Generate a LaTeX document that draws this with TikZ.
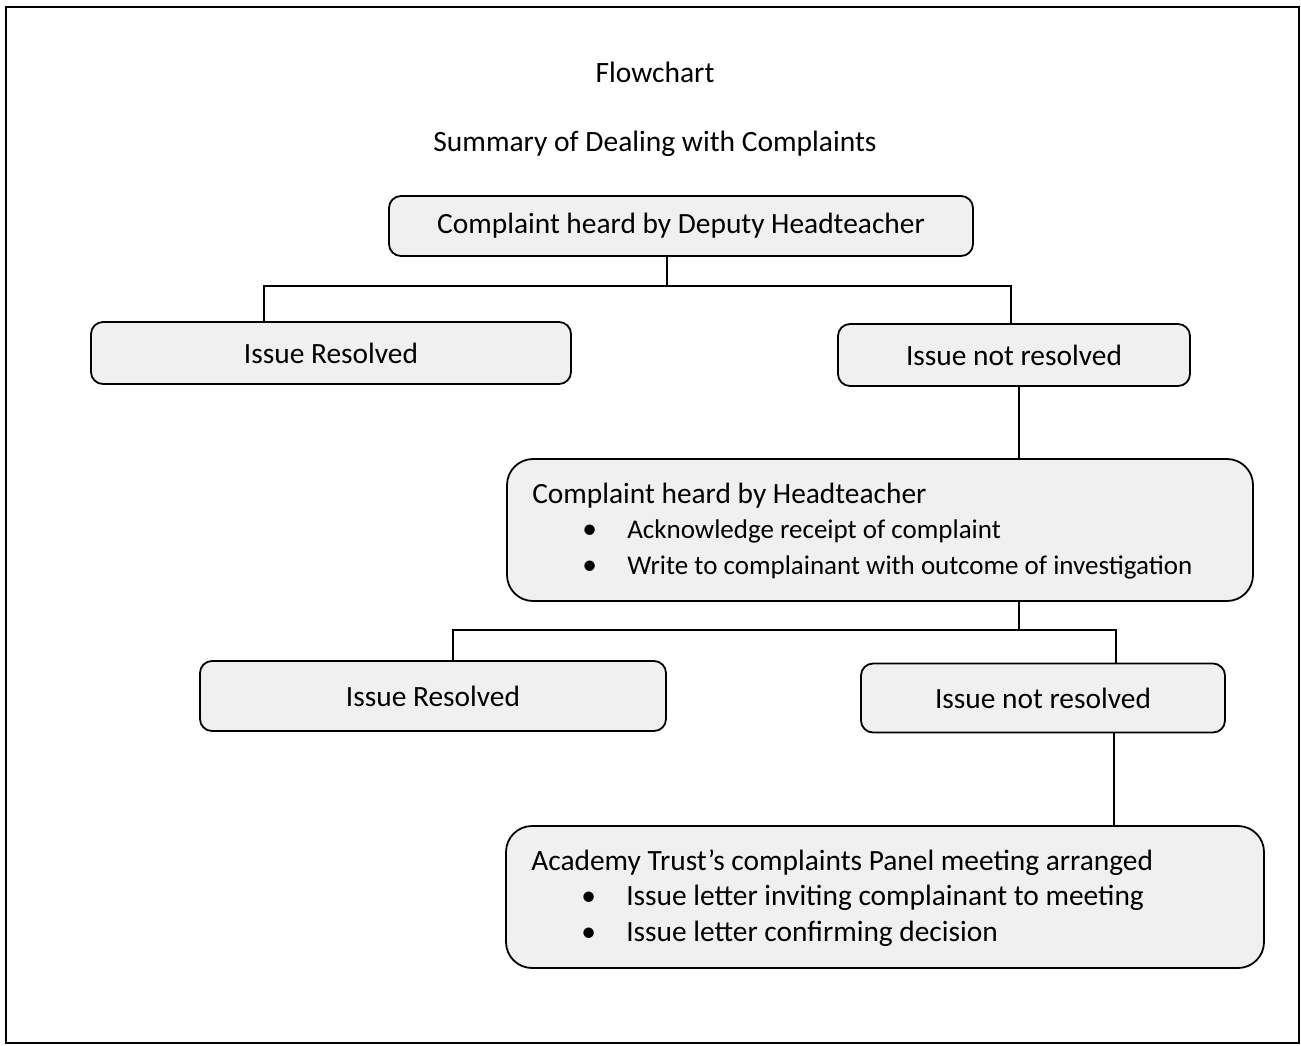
\documentclass[tikz,border=0pt]{standalone}
\usepackage{fontspec}
\setmainfont{Carlito}
\begin{document}
\begin{tikzpicture}[x=1pt,y=-1pt,
  box/.style={draw=black, line width=1.8pt, fill=black!6, rounded corners=12pt, inner sep=0pt, font=\fontsize{29.4}{34}\selectfont},
  bigbox/.style={draw=black, line width=1.8pt, fill=black!6, rounded corners=26pt, inner sep=0pt},
  bigtext/.style={anchor=west, inner sep=0pt, align=left, font=\fontsize{29.4}{35.5}\selectfont},
  title/.style={font=\fontsize{29.5}{34}\selectfont, inner sep=0pt},
  conn/.style={line width=1.6pt}]
\useasboundingbox (0,0) rectangle (1301,1045);
\draw[line width=2pt] (6,7) rectangle (1299,1043);

\node[title] (t1) at (655,72) {Flowchart};
\node[title] (t2) at (655,144) {Summary of Dealing with Complaints};

\node[box, minimum width=584pt, minimum height=60pt] (b1) at (681,226) {Complaint heard by Deputy Headteacher};
\node[box, minimum width=480pt, minimum height=62pt] (b2) at (331,353) {Issue Resolved};
\node[box, minimum width=352pt, minimum height=62pt] (b3) at (1014,355) {Issue not resolved};

\node[bigbox, minimum width=746pt, minimum height=142pt] (b4) at (880,530) {};
\node[bigtext] (b4t) at ([xshift=26pt,yshift=-1pt]b4.west) {Complaint heard by Headteacher\\
\hspace*{50pt}\makebox[45pt][l]{•}{\fontsize{27}{35.5}\selectfont Acknowledge receipt of complaint}\\
\hspace*{50pt}\makebox[45pt][l]{•}{\fontsize{27}{35.5}\selectfont Write to complainant with outcome of investigation}};

\node[box, minimum width=466pt, minimum height=70pt] (b5) at (433,696) {Issue Resolved};
\node[box, minimum width=364pt, minimum height=69pt] (b6) at (1043,698) {Issue not resolved};

\node[bigbox, minimum width=758pt, minimum height=142pt] (b7) at (885,897) {};
\node[bigtext] (b7t) at ([xshift=26pt,yshift=-1pt]b7.west) {Academy Trust’s complaints Panel meeting arranged\\
\hspace*{50pt}\makebox[45pt][l]{•}Issue letter inviting complainant to meeting\\
\hspace*{50pt}\makebox[45pt][l]{•}Issue letter confirming decision};

\coordinate (j1) at (667,286);
\coordinate (j1l) at (264,286);
\coordinate (j1r) at (1011,286);
\draw[conn] (b1.south -| j1) -- (j1);
\draw[conn] (j1l |- b2.north) -- (j1l) -- (j1r) -- (j1r |- b3.north);

\coordinate (j2) at (1019,400);
\draw[conn] (b3.south -| j2) -- (b4.north -| j2);

\coordinate (j3) at (1019,630);
\coordinate (j3l) at (453,630);
\coordinate (j3r) at (1116,630);
\draw[conn] (b4.south -| j3) -- (j3);
\draw[conn] (j3l |- b5.north) -- (j3l) -- (j3r) -- (j3r |- b6.north);

\coordinate (j4) at (1114,780);
\draw[conn] (b6.south -| j4) -- (b7.north -| j4);
\end{tikzpicture}
\end{document}
